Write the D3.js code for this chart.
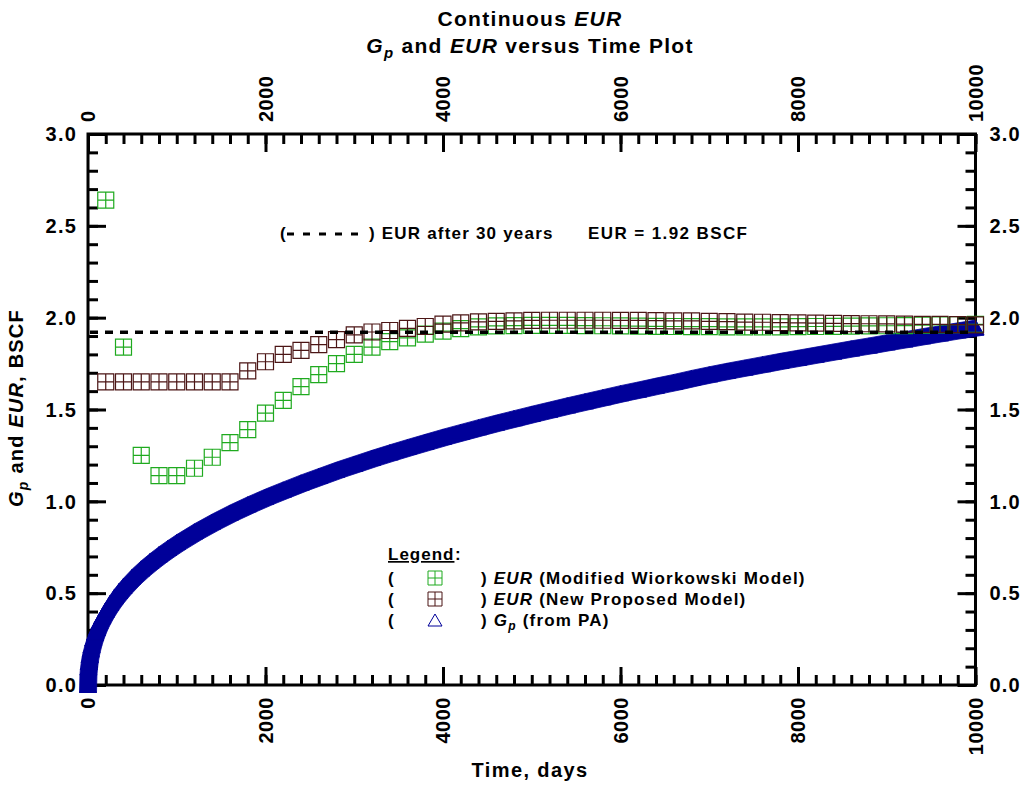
<!DOCTYPE html>
<html>
<head>
<meta charset="utf-8">
<script src="https://cdn.jsdelivr.net/npm/d3@7"></script>
<style>
  body { margin: 0; background: #fff; }
  text { font-family: Arial, "Liberation Sans", sans-serif; font-weight: bold; fill: #000; }
</style>
</head>
<body>
<div id="chart"></div>
<script>
// ---- data ----
const gpTime = [0, 5, 10, 20, 30, 40, 60, 80, 100, 130, 160, 200, 250, 300, 350, 400,
  500, 600, 700, 800, 900, 1000, 1200, 1400, 1600, 1800, 2000, 2200, 2400, 2600, 2800,
  3000, 3200, 3400, 3600, 3800, 4000, 4200, 4400, 4600, 4800, 5000, 5200, 5400, 5600,
  5800, 6000, 6200, 6400, 6600, 6800, 7000, 7200, 7400, 7600, 7800, 8000, 8200, 8400,
  8600, 8800, 9000, 9200, 9400, 9600, 9800, 10000];
const gpValue = [0, 0.095, 0.125, 0.164, 0.193, 0.216, 0.254, 0.285, 0.311, 0.346, 0.375,
  0.41, 0.448, 0.482, 0.512, 0.54, 0.591, 0.635, 0.675, 0.712, 0.746, 0.778, 0.837, 0.89,
  0.939, 0.984, 1.026, 1.065, 1.103, 1.138, 1.173, 1.205, 1.237, 1.267, 1.296, 1.324,
  1.352, 1.378, 1.404, 1.429, 1.453, 1.477, 1.5, 1.523, 1.545, 1.567, 1.589, 1.609,
  1.63, 1.65, 1.672, 1.692, 1.711, 1.729, 1.747, 1.765, 1.782, 1.799, 1.816, 1.833,
  1.849, 1.866, 1.882, 1.899, 1.915, 1.931, 1.946];

const eurTime = d3.range(200, 10001, 200);
const eurWiorkowski = [2.64, 1.84, 1.25, 1.14, 1.14, 1.18, 1.24, 1.32, 1.39, 1.48,
  1.55, 1.625, 1.69, 1.75, 1.8, 1.84, 1.87, 1.89, 1.91, 1.927,
  1.94, 1.95, 1.955, 1.957, 1.958, 1.958, 1.958, 1.957, 1.956, 1.955,
  1.954, 1.953, 1.952, 1.951, 1.951, 1.95, 1.95, 1.95, 1.95, 1.951,
  1.952, 1.953, 1.954, 1.955, 1.956, 1.957, 1.959, 1.96, 1.962, 1.964];
const eurProposed = [1.65, 1.65, 1.65, 1.65, 1.65, 1.65, 1.65, 1.65, 1.71, 1.76,
  1.8, 1.822, 1.853, 1.88, 1.906, 1.922, 1.93, 1.942, 1.952, 1.965,
  1.972, 1.977, 1.98, 1.983, 1.985, 1.986, 1.986, 1.986, 1.986, 1.985,
  1.985, 1.984, 1.983, 1.982, 1.98, 1.978, 1.976, 1.975, 1.973, 1.972,
  1.97, 1.969, 1.968, 1.967, 1.966, 1.965, 1.964, 1.963, 1.962, 1.961];
const eur30Years = 1.92;

const xTickValues = [0, 2000, 4000, 6000, 8000, 10000];
const yTickValues = [0, 0.5, 1, 1.5, 2, 2.5, 3];
const yTickLabels = ["0.0", "0.5", "1.0", "1.5", "2.0", "2.5", "3.0"];

// ---- layout ----
const width = 1022;
const height = 786;
const margin = { top: 134, right: 46.5, bottom: 101, left: 88 };
const plotRight = width - margin.right;
const plotBottom = height - margin.bottom;

const green = "#1faa1f";
const brown = "#4b1515";
const blue = "#000099";
const triW = 17, triH = 15, sq = 16;

const svg = d3.select("#chart").append("svg")
  .attr("width", width)
  .attr("height", height);

const x = d3.scaleLinear().domain([0, 10000]).range([margin.left, plotRight]);
const y = d3.scaleLinear().domain([0, 3]).range([plotBottom, margin.top]);

// ---- axes (ticks pointing inward) ----
function styleAxis(g) {
  g.select(".domain").remove();
  g.selectAll("line").attr("stroke", "#000").attr("stroke-width", 3);
}
const xMinor = d3.range(0, 10001, 200);
const yMinor = d3.range(0, 3.001, 0.1);

svg.append("g").attr("transform", "translate(0," + plotBottom + ")")
  .call(d3.axisBottom(x).tickValues(xMinor).tickSize(-10).tickFormat("")).call(styleAxis);
svg.append("g").attr("transform", "translate(0," + plotBottom + ")")
  .call(d3.axisBottom(x).tickValues(xTickValues).tickSize(-18).tickFormat("")).call(styleAxis);
svg.append("g").attr("transform", "translate(0," + margin.top + ")")
  .call(d3.axisTop(x).tickValues(xMinor).tickSize(-10).tickFormat("")).call(styleAxis);
svg.append("g").attr("transform", "translate(0," + margin.top + ")")
  .call(d3.axisTop(x).tickValues(xTickValues).tickSize(-18).tickFormat("")).call(styleAxis);
svg.append("g").attr("transform", "translate(" + margin.left + ",0)")
  .call(d3.axisLeft(y).tickValues(yMinor).tickSize(-10).tickFormat("")).call(styleAxis);
svg.append("g").attr("transform", "translate(" + margin.left + ",0)")
  .call(d3.axisLeft(y).tickValues(yTickValues).tickSize(-18).tickFormat("")).call(styleAxis);
svg.append("g").attr("transform", "translate(" + plotRight + ",0)")
  .call(d3.axisRight(y).tickValues(yMinor).tickSize(-10).tickFormat("")).call(styleAxis);
svg.append("g").attr("transform", "translate(" + plotRight + ",0)")
  .call(d3.axisRight(y).tickValues(yTickValues).tickSize(-18).tickFormat("")).call(styleAxis);

svg.append("rect")
  .attr("x", margin.left).attr("y", margin.top)
  .attr("width", plotRight - margin.left).attr("height", plotBottom - margin.top)
  .attr("fill", "none").attr("stroke", "#000").attr("stroke-width", 3);

// tick labels
const tickFont = 20;
svg.append("g").selectAll("text").data(xTickValues).join("text")
  .attr("transform", d => "translate(" + x(d) + "," + (plotBottom + 12) + ") rotate(-90)")
  .attr("text-anchor", "end").attr("dy", "0.36em")
  .attr("font-size", tickFont).attr("letter-spacing", 0.5)
  .text(d => d);
svg.append("g").selectAll("text").data(xTickValues).join("text")
  .attr("transform", d => "translate(" + x(d) + "," + (margin.top - 12) + ") rotate(-90)")
  .attr("text-anchor", "start").attr("dy", "0.36em")
  .attr("font-size", tickFont).attr("letter-spacing", 0.5)
  .text(d => d);
svg.append("g").selectAll("text").data(yTickValues).join("text")
  .attr("x", margin.left - 11).attr("y", d => y(d)).attr("dy", "0.36em")
  .attr("text-anchor", "end").attr("font-size", tickFont).attr("letter-spacing", 1.2)
  .text((d, i) => yTickLabels[i]);
svg.append("g").selectAll("text").data(yTickValues).join("text")
  .attr("x", plotRight + 14).attr("y", d => y(d)).attr("dy", "0.36em")
  .attr("text-anchor", "start").attr("font-size", tickFont).attr("letter-spacing", 1.2)
  .text((d, i) => yTickLabels[i]);

// ---- Gp band: triangle markers swept between samples ----
const gpData = gpTime.map((t, i) => ({ t: t, v: gpValue[i] }));
function triPts(d) {
  const cx = x(d.t), cy = y(d.v);
  return [[cx, cy - triH / 2], [cx - triW / 2, cy + triH / 2], [cx + triW / 2, cy + triH / 2]];
}
const band = svg.append("g");
d3.pairs(gpData).forEach(function(p) {
  const hull = d3.polygonHull(triPts(p[0]).concat(triPts(p[1])));
  band.append("path")
    .attr("d", "M" + hull.join("L") + "Z")
    .attr("fill", blue)
    .attr("stroke", blue)
    .attr("stroke-width", 0.8);
});
band.selectAll("path.tri").data(gpData).join("path")
  .attr("class", "tri")
  .attr("d", d => "M" + triPts(d).join("L") + "Z")
  .attr("fill", "none").attr("stroke", blue);

// ---- EUR square markers ----
function squarePath(s) {
  const h = s / 2;
  return "M" + (-h) + "," + (-h) + "h" + s + "v" + s + "h" + (-s) + "Z" +
    "M0," + (-h) + "v" + s + "M" + (-h) + ",0h" + s;
}
function drawSquares(values, color) {
  svg.append("g").selectAll("path").data(values).join("path")
    .attr("transform", (d, i) => "translate(" + x(eurTime[i]) + "," + y(d) + ")")
    .attr("d", squarePath(sq))
    .attr("fill", "none").attr("stroke", color).attr("stroke-width", 1.2);
}
drawSquares(eurWiorkowski, green);
drawSquares(eurProposed, brown);

// EUR after 30 years
svg.append("line")
  .attr("x1", x(0) + 2).attr("x2", x(10000) - 2)
  .attr("y1", y(eur30Years)).attr("y2", y(eur30Years))
  .attr("stroke", "#000").attr("stroke-width", 3.5).attr("stroke-dasharray", "8,7");

// ---- annotation ----
const noteFont = 17;
svg.append("text").attr("x", 280).attr("y", 239).attr("font-size", noteFont).text("(");
svg.append("line").attr("x1", 287).attr("x2", 360).attr("y1", 234).attr("y2", 234)
  .attr("stroke", "#000").attr("stroke-width", 3).attr("stroke-dasharray", "7,9");
svg.append("text").attr("x", 369).attr("y", 239).attr("font-size", noteFont)
  .attr("letter-spacing", 1.2).text(") EUR after 30 years");
svg.append("text").attr("x", 588).attr("y", 239).attr("font-size", noteFont)
  .attr("letter-spacing", 1.4).text("EUR = 1.92 BSCF");

// ---- titles ----
const t1 = svg.append("text").attr("x", 530).attr("y", 26).attr("text-anchor", "middle")
  .attr("font-size", 21).attr("letter-spacing", 1.3);
t1.append("tspan").text("Continuous ");
t1.append("tspan").attr("font-style", "italic").text("EUR");

const t2 = svg.append("text").attr("x", 530).attr("y", 53).attr("text-anchor", "middle")
  .attr("font-size", 21).attr("letter-spacing", 1.3);
t2.append("tspan").attr("font-style", "italic").text("G");
t2.append("tspan").attr("font-style", "italic").attr("font-size", 15).attr("dy", 5).text("p");
t2.append("tspan").attr("dy", -5).text(" and ");
t2.append("tspan").attr("font-style", "italic").text("EUR");
t2.append("tspan").text(" versus Time Plot");

svg.append("text").attr("x", 530).attr("y", 777).attr("text-anchor", "middle")
  .attr("font-size", 20).attr("letter-spacing", 1.4).text("Time, days");

const yt = svg.append("text").attr("transform", "translate(23,408) rotate(-90)")
  .attr("text-anchor", "middle").attr("font-size", 20).attr("letter-spacing", 1.2);
yt.append("tspan").attr("font-style", "italic").text("G");
yt.append("tspan").attr("font-style", "italic").attr("font-size", 14).attr("dy", 5).text("p");
yt.append("tspan").attr("dy", -5).text(" and ");
yt.append("tspan").attr("font-style", "italic").text("EUR");
yt.append("tspan").text(", BSCF");

// ---- legend ----
const legFont = 17;
const legend = svg.append("g");
legend.append("text").attr("x", 388).attr("y", 560).attr("font-size", legFont)
  .attr("letter-spacing", 1).attr("text-decoration", "underline").text("Legend");
legend.append("text").attr("x", 455).attr("y", 560).attr("font-size", legFont).text(":");

const legendRows = [
  { color: green, kind: "square", italic: "EUR", rest: " (Modified Wiorkowski Model)" },
  { color: brown, kind: "square", italic: "EUR", rest: " (New Proposed Model)" },
  { color: blue, kind: "tri", italic: "G", sub: "p", rest: " (from PA)" }
];
legendRows.forEach(function(r, i) {
  const by = 584 + i * 21;
  legend.append("text").attr("x", 388).attr("y", by).attr("font-size", legFont).text("(");
  const mk = legend.append("path").attr("fill", "none").attr("stroke", r.color);
  if (r.kind === "square") {
    mk.attr("transform", "translate(435," + (by - 6) + ")").attr("d", squarePath(14));
  } else {
    mk.attr("transform", "translate(435," + (by - 6) + ")")
      .attr("d", "M0,-6L-7,6L7,6Z");
  }
  const tx = legend.append("text").attr("x", 481).attr("y", by).attr("font-size", legFont)
    .attr("letter-spacing", 1.2);
  tx.append("tspan").text(") ");
  tx.append("tspan").attr("font-style", "italic").text(r.italic);
  if (r.sub) {
    tx.append("tspan").attr("font-style", "italic").attr("font-size", 12).attr("dy", 4).text(r.sub);
    tx.append("tspan").attr("dy", -4).text(r.rest);
  } else {
    tx.append("tspan").text(r.rest);
  }
});
</script>
</body>
</html>
